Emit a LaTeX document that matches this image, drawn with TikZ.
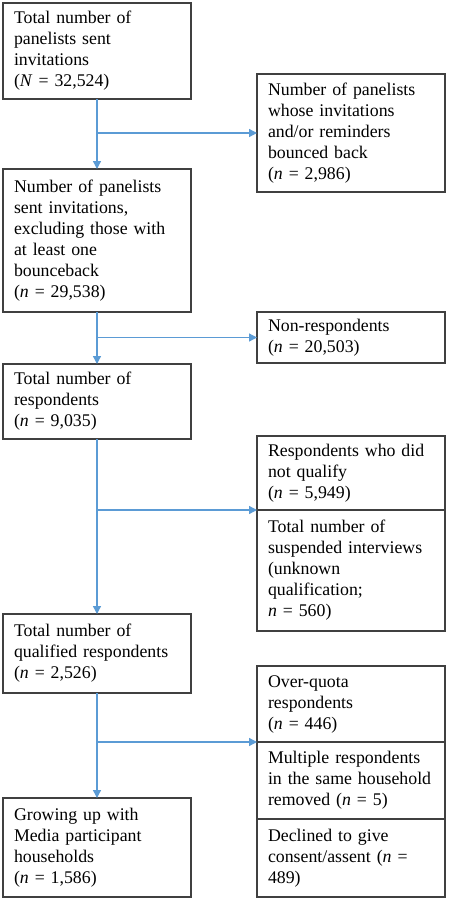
\documentclass[tikz,border=0pt]{standalone}
\usepackage{fontspec}
\setmainfont{Liberation Serif}
\usetikzlibrary{arrows.meta}
\definecolor{flowblue}{HTML}{5B9BD5}
\definecolor{boxgray}{HTML}{404040}
\newcommand{\nn}{\textit{n}}
\begin{document}
\begin{tikzpicture}[x=1pt,y=-1pt,>={Triangle[length=8pt,width=8pt]},
   box/.style={draw=boxgray,line width=1.5pt,anchor=north west,outer sep=0pt,
      minimum width=188pt,text width=166pt,inner xsep=11pt,inner ysep=4pt,
      align=left,font=\fontsize{17.8pt}{21pt}\selectfont},
   flow/.style={->,draw=flowblue,line width=1.3pt}]
   \useasboundingbox (0,0) rectangle (448,900);

   % 左の列
   \node[box,minimum height=96pt] (total) at (3,3)
      {Total number of\\panelists sent\\invitations\\(\textit{N} = 32,524)};
   \node[box,minimum height=143pt] (sent) at (3,169)
      {Number of panelists\\sent invitations,\\excluding those with\\at least one\\bounceback\\(\nn{} = 29,538)};
   \node[box,minimum height=75pt] (resp) at (3,364)
      {Total number of\\respondents\\(\nn{} = 9,035)};
   \node[box,minimum height=79pt] (qual) at (3,614)
      {Total number of\\qualified respondents\\(\nn{} = 2,526)};
   \node[box,minimum height=99pt] (growing) at (3,798)
      {Growing up with\\Media participant\\households\\(\nn{} = 1,586)};

   % 右の列
   \node[box,minimum height=118pt] (bounce) at (257,74)
      {Number of panelists\\whose invitations\\and/or reminders\\bounced back\\(\nn{} = 2,986)};
   \node[box,minimum height=51pt] (nonresp) at (257,312)
      {Non-respondents\\(\nn{} = 20,503)};
   \node[box,minimum height=74pt] (notqual) at (257,436)
      {Respondents who did\\not qualify\\(\nn{} = 5,949)};
   \node[box,minimum height=121pt] (susp) at (notqual.south west)
      {Total number of\\suspended interviews\\(unknown\\qualification;\\\nn{} = 560)};
   \node[box,minimum height=76pt] (overq) at (257,666)
      {Over-quota\\respondents\\(\nn{} = 446)};
   \node[box,minimum height=77pt] (multi) at (overq.south west)
      {Multiple respondents\\in the same household\\removed (\nn{} = 5)};
   \node[box,minimum height=78pt] (declined) at (multi.south west)
      {Declined to give\\consent/assent (\nn{} =\\489)};

   % 矢印
   \draw[flow] (total) -- (sent);
   \draw[flow] (sent) -- (resp);
   \draw[flow] (resp) -- (qual);
   \draw[flow] (qual) -- (growing);

   \draw[flow] (total.south |- bounce.west) -- (bounce.west);
   \draw[flow] (sent.south |- nonresp.west) -- (nonresp.west);
   \draw[flow] (resp.south |- notqual.south west) -- (notqual.south west);
   \draw[flow] (qual.south |- overq.south west) -- (overq.south west);

\end{tikzpicture}
\end{document}
